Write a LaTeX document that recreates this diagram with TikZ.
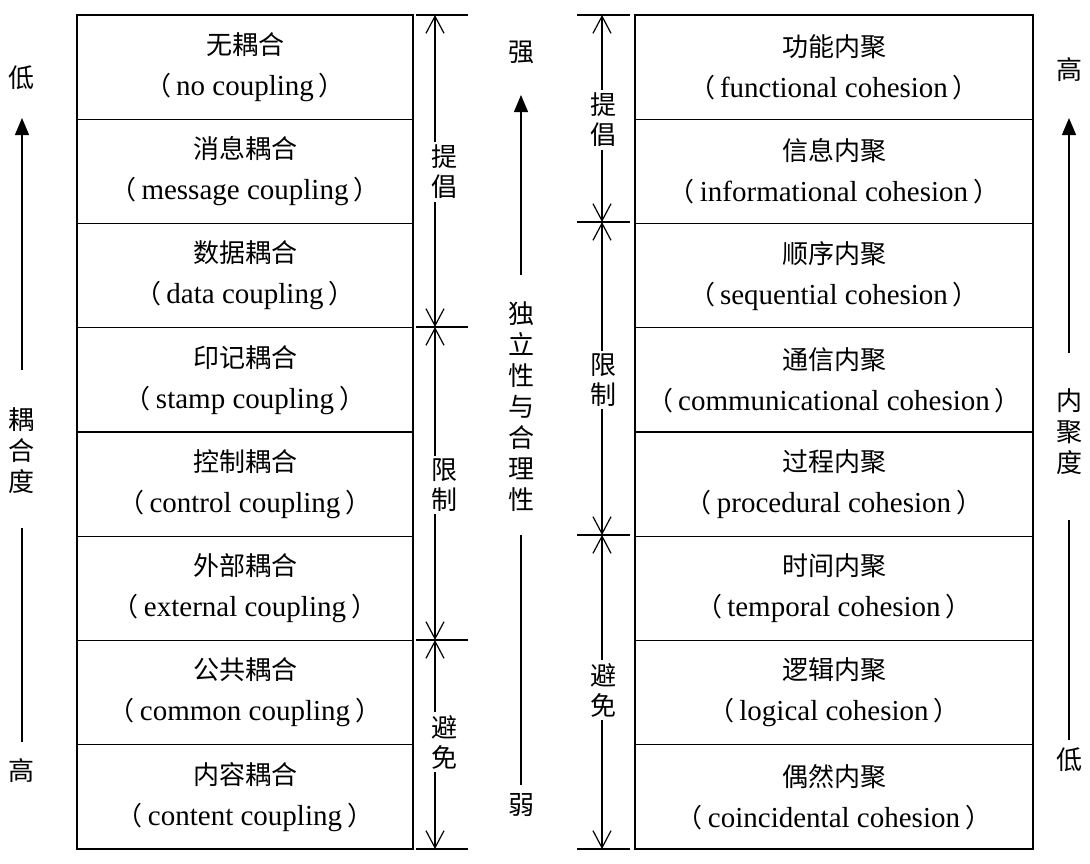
\documentclass[tikz,border=0pt]{standalone}
\usepackage{fontspec}
\setmainfont{Liberation Serif}
\newfontfamily\cjk{Noto Sans CJK SC}
\usetikzlibrary{arrows.meta}
\newcommand\celltext[2]{{\cjk #1}\\[1pt]{\cjk （}\hspace{5pt}{\fontsize{29}{40}\selectfont #2}\hspace{5pt}{\cjk ）}}
\begin{document}
\begin{tikzpicture}[x=1pt,y=-1pt,
  cell/.style={draw,line width=1.3pt,minimum width=336pt,minimum height=104.25pt,inner sep=0pt,align=center,font=\fontsize{26}{40}\selectfont},
  rcell/.style={cell,minimum width=398pt},
  dimline/.style={line width=1.2pt,{Straight Barb[length=17pt,width=18pt,line width=1.2pt]}-{Straight Barb[length=17pt,width=18pt,line width=1.2pt]}},
  tick/.style={line width=1.2pt},
  dimlabel/.style={fill=white,inner xsep=1pt,inner ysep=3pt,align=center,font=\fontsize{26}{30}\selectfont\cjk},
  sidetext/.style={inner sep=1pt,align=center,font=\fontsize{26}{31}\selectfont\cjk},
  bigarrow/.style={line width=1.3pt,-{Triangle[length=17pt,width=14pt]}},
  plainline/.style={line width=1.3pt}
]
\useasboundingbox (0,0) rectangle (1090,863);
% left column
\foreach \i/\c/\e in {0/无耦合/no coupling,1/消息耦合/message coupling,2/数据耦合/data coupling,3/印记耦合/stamp coupling,4/控制耦合/control coupling,5/外部耦合/external coupling,6/公共耦合/common coupling,7/内容耦合/content coupling}
  \node[cell] (L\i) at (245,{15+104.25*(\i+0.5)}) {\celltext{\c}{\e}};
% right column
\foreach \i/\c/\e in {0/功能内聚/functional cohesion,1/信息内聚/informational cohesion,2/顺序内聚/sequential cohesion,3/通信内聚/communicational cohesion,4/过程内聚/procedural cohesion,5/时间内聚/temporal cohesion,6/逻辑内聚/logical cohesion,7/偶然内聚/coincidental cohesion}
  \node[rcell] (R\i) at (834,{15+104.25*(\i+0.5)}) {\celltext{\c}{\e}};
% left dimension
\foreach \n/\y in {0/15,1/327,2/640,3/849} {
  \coordinate (LT\n) at (435,\y);
  \draw[tick] ([xshift=-19pt]LT\n) -- ([xshift=33pt]LT\n);
}
\draw[dimline] (LT0) -- (LT1);
\draw[dimline] (LT1) -- (LT2);
\draw[dimline] (LT2) -- (LT3);
\node[dimlabel] (Ld1) at (444,172) {提\\倡};
\node[dimlabel] (Ld2) at (444,485) {限\\制};
\node[dimlabel] (Ld3) at (444,742) {避\\免};
% right dimension
\foreach \n/\y in {0/15,1/222,2/535,3/849} {
  \coordinate (RT\n) at (602,\y);
  \draw[tick] ([xshift=-25pt]RT\n) -- ([xshift=28pt]RT\n);
}
\draw[dimline] (RT0) -- (RT1);
\draw[dimline] (RT1) -- (RT2);
\draw[dimline] (RT2) -- (RT3);
\node[dimlabel] (Rd1) at (603,120) {提\\倡};
\node[dimlabel] (Rd2) at (603,380) {限\\制};
\node[dimlabel] (Rd3) at (603,690) {避\\免};
% left scale
\node[sidetext] (Ltop) at (22,78) {低};
\node[sidetext] (Lmid) at (22,451) {耦\\合\\度};
\node[sidetext] (Lbot) at (22,771) {高};
\coordinate (La1) at (22,370); \coordinate (La2) at (22,118);
\coordinate (La3) at (22,528); \coordinate (La4) at (22,742);
\draw[bigarrow] (La1) -- (La2);
\draw[plainline] (La3) -- (La4);
% middle scale
\node[sidetext] (Mtop) at (521,52) {强};
\node[sidetext] (Mmid) at (521,407) {独\\立\\性\\与\\合\\理\\性};
\node[sidetext] (Mbot) at (521,805) {弱};
\coordinate (Ma1) at (521,275); \coordinate (Ma2) at (521,95);
\coordinate (Ma3) at (521,535); \coordinate (Ma4) at (521,785);
\draw[bigarrow] (Ma1) -- (Ma2);
\draw[plainline] (Ma3) -- (Ma4);
% right scale
\node[sidetext] (Rtop) at (1069,70) {高};
\node[sidetext] (Rmid) at (1069,432) {内\\聚\\度};
\node[sidetext] (Rbot) at (1069,760) {低};
\coordinate (Ra1) at (1069,353); \coordinate (Ra2) at (1069,118);
\coordinate (Ra3) at (1069,520); \coordinate (Ra4) at (1069,740);
\draw[bigarrow] (Ra1) -- (Ra2);
\draw[plainline] (Ra3) -- (Ra4);
\end{tikzpicture}
\end{document}
